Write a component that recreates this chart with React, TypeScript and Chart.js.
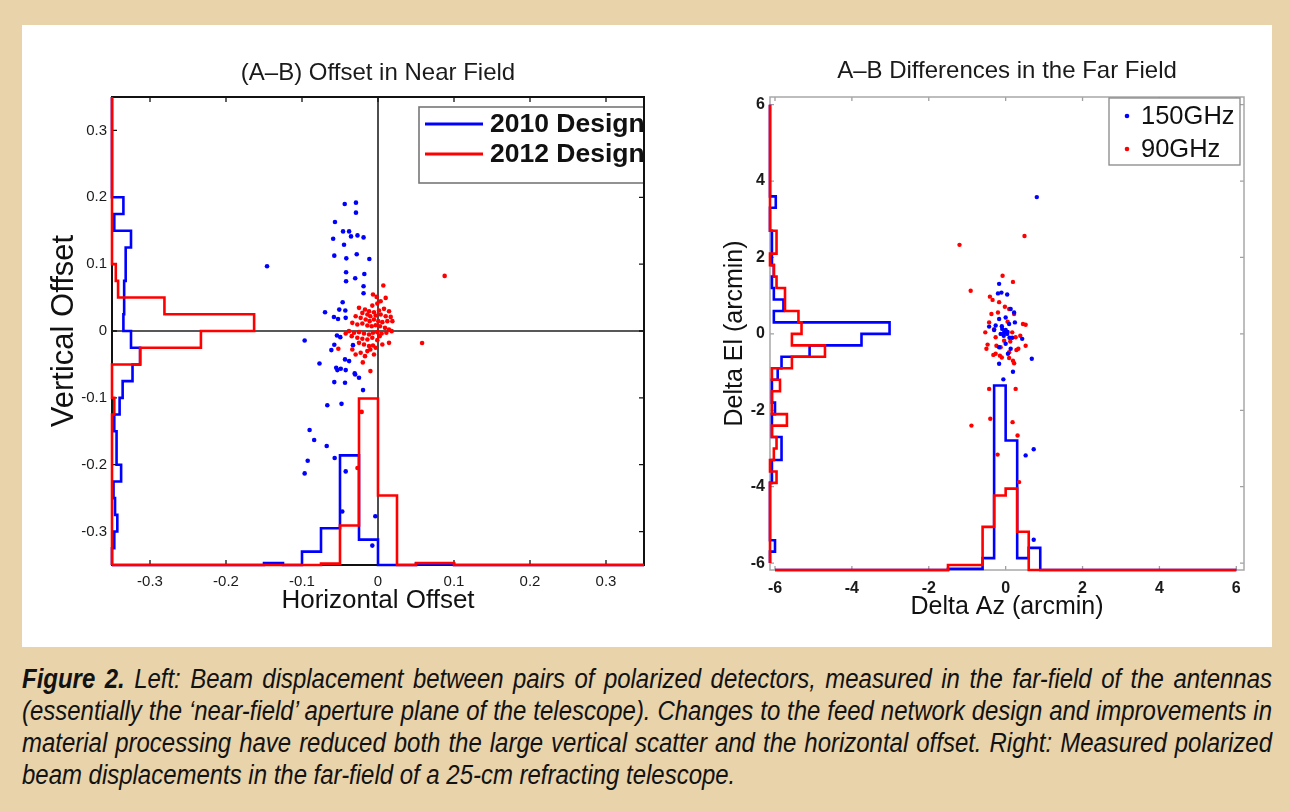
import React, { useEffect, useLayoutEffect, useRef, useState } from "react";
import { Chart, registerables } from "chart.js";

Chart.register(...registerables);

const FONT = '"Liberation Sans", Arial, Helvetica, sans-serif';
const BLUE = "#0000ff";
const RED = "#ff0000";
const TAN = "#e8d3ab";

// ---------------- Left panel: near field ----------------
const nearTitle = "(A–B) Offset in Near Field";
const nearXLabel = "Horizontal Offset";
const nearYLabel = "Vertical Offset";
const nearSeriesNames = ["2010 Design", "2012 Design"];
const nearTicks = [-0.3, -0.2, -0.1, 0, 0.1, 0.2, 0.3];
const nearMin = -0.35;
const nearMax = 0.35;
const nearBinEdges = [
  -0.35, -0.325, -0.3, -0.275, -0.25, -0.225, -0.2, -0.175, -0.15, -0.125, -0.1, -0.075, -0.05, -0.025, 0,
  0.025, 0.05, 0.075, 0.1, 0.125, 0.15, 0.175, 0.2, 0.225, 0.25, 0.275, 0.3, 0.325, 0.35,
];
// histogram of vertical offsets (drawn from the left edge), in axis units
const near2010VertHist = [0, 0.003, 0.007, 0.004, 0.002, 0.012, 0.006, 0.006, 0.003, 0.01, 0.014, 0.027, 0.037, 0.025, 0.015, 0.016, 0.016, 0.018, 0.018, 0.025, 0.003, 0.015, 0, 0, 0, 0, 0, 0];
const near2012VertHist = [0, 0, 0, 0, 0, 0, 0, 0, 0, 0.003, 0, 0, 0.037, 0.117, 0.187, 0.069, 0.008, 0.005, 0, 0, 0, 0, 0, 0, 0, 0, 0, 0];
// histogram of horizontal offsets (drawn from the bottom edge)
const near2010HorzHist = [0, 0, 0, 0, 0, 0, 0, 0, 0.003, 0, 0.02, 0.055, 0.164, 0.038, 0, 0, 0.002, 0.002, 0, 0, 0, 0, 0, 0, 0, 0, 0, 0];
const near2012HorzHist = [0, 0, 0, 0, 0, 0, 0, 0, 0, 0, 0, 0.002, 0.059, 0.249, 0.104, 0, 0.003, 0.003, 0, 0, 0, 0, 0, 0, 0, 0, 0, 0];

const near2010X = [
  -0.0438, -0.029, -0.029, -0.0566, -0.046, -0.038, -0.0355, -0.027, -0.019, -0.059,
  -0.0447, -0.0575, -0.0417, -0.028, -0.0114, -0.146, -0.042, -0.018, -0.03, -0.042,
  -0.019, -0.019, -0.0465, -0.051, -0.043, -0.0697, -0.058, -0.0526, -0.0425, -0.054,
  -0.0496, -0.0965, -0.0614, -0.0575, -0.0329, -0.077, -0.0434, -0.038, -0.055, -0.049,
  -0.0307,
  -0.0535, -0.0425, -0.03, -0.025, -0.0575, -0.0434, -0.0197, -0.0667, -0.048, -0.09,
  -0.084, -0.0675, -0.057, -0.0925, -0.0965, -0.0425, -0.047, -0.0035, -0.0075,
];
const near2010Y = [
  0.19, 0.192, 0.177, 0.163, 0.149, 0.149, 0.1415, 0.143, 0.14, 0.138,
  0.129, 0.1127, 0.1087, 0.1147, 0.1077, 0.0968, 0.0878, 0.0853, 0.0789, 0.0744,
  0.0669, 0.0565, 0.043, 0.032, 0.0306, 0.028, 0.021, 0.018, 0.0197, -0.0067,
  -0.0092, -0.0142, -0.0286, -0.0206, -0.0212, -0.0485, -0.0425, -0.045, -0.055, -0.0564,
  -0.0634,
  -0.0585, -0.0585, -0.065, -0.07, -0.0764, -0.0773, -0.0884, -0.111, -0.109, -0.148,
  -0.163, -0.172, -0.19, -0.194, -0.213, -0.21, -0.27, -0.277, -0.321,
];
const near2012X = [
  0.007, -0.0066, -0.0018, 0.0101, 0.0035, -0.0009, -0.0075, -0.025, -0.0171, -0.0118,
  -0.0053, 0.0013, 0.0079, 0.0145, -0.0206, -0.014, -0.0101, -0.0031, 0.0035, 0.0101,
  0.0167, -0.0294, -0.0228, -0.0162, -0.011, -0.0053, 0.0004, 0.0057, 0.0123, 0.0189,
  -0.0338, -0.0272, -0.0206, -0.014, -0.0083, -0.0031, 0.0026, 0.0092, 0.0145, -0.0382,
  -0.0316, -0.025, -0.0184, -0.0118, -0.0066, -0.0009, 0.0048, 0.011, 0.018, -0.0425,
  -0.0346, -0.0272, -0.0206, -0.014, -0.0075, -0.0009, 0.0057, 0.0145, -0.025, -0.0184,
  -0.0118, -0.0066, -0.0522, -0.0338, -0.0228, -0.014, -0.0053, -0.0171, -0.0101, -0.0294,
  -0.0031, 0.0022, 0.0877, 0.058, -0.0215, -0.027, -0.02, -0.01,
];
const near2012Y = [
  0.068, 0.0545, 0.051, 0.0495, 0.0445, 0.041, 0.038, 0.0346, 0.0321, 0.0296,
  0.0281, 0.0306, 0.0331, 0.0296, 0.0271, 0.0246, 0.0221, 0.0231, 0.0246, 0.0221,
  0.0211, 0.0221, 0.0197, 0.0172, 0.0147, 0.0172, 0.0147, 0.0132, 0.0147, 0.0147,
  0.0122, 0.0097, 0.0112, 0.0082, 0.0072, 0.0087, 0.0072, 0.0047, 0.0022, -0.0002,
  -0.0027, -0.0017, -0.0037, -0.0052, -0.0027, -0.0017, -0.0037, -0.0027, -0.0002, -0.0037,
  -0.0077, -0.0102, -0.0117, -0.0127, -0.0102, -0.0137, -0.0201, -0.0177, -0.0177, -0.0201,
  -0.0226, -0.0216, -0.0266, -0.0276, -0.0326, -0.0301, -0.0351, -0.0376, -0.0276, -0.0351,
  -0.0251, -0.0077, 0.0824, -0.018, -0.121, -0.205, -0.047, -0.06,
];

// ---------------- Right panel: far field ----------------
const farTitle = "A–B Differences in the Far Field";
const farXLabel = "Delta Az (arcmin)";
const farYLabel = "Delta El (arcmin)";
const farSeriesNames = ["150GHz", "90GHz"];
const farTicks = [-6, -4, -2, 0, 2, 4, 6];
const farXMin = -6.13;
const farXMax = 6.2;
const farYMin = -6.18;
const farYMax = 6.2;
const farBinEdges = [
  -6, -5.7, -5.4, -5.1, -4.8, -4.5, -4.2, -3.9, -3.6, -3.3, -3, -2.7, -2.4, -2.1, -1.8, -1.5, -1.2, -0.9, -0.6, -0.3,
  0, 0.3, 0.6, 0.9, 1.2, 1.5, 1.8, 2.1, 2.4, 2.7, 3, 3.3, 3.6, 3.9, 4.2, 4.5, 4.8, 5.1, 5.4, 5.7, 6,
];
const far150VertHist = [0, 0.13, 0, 0, 0, 0, 0, 0.05, 0.05, 0.3, 0.3, 0.05, 0.05, 0.13, 0.05, 0.05, 0.2, 0.3, 1.03, 2.38, 3.11, 0.1, 0.35, 0.1, 0.05, 0.1, 0.05, 0.05, 0.05, 0, 0, 0.15, 0, 0, 0, 0, 0, 0, 0, 0];
const far90VertHist = [0, 0, 0, 0, 0, 0, 0, 0.17, 0, 0.1, 0.17, 0.05, 0.44, 0.05, 0.05, 0.26, 0.05, 0.57, 1.43, 0.57, 0.82, 0.74, 0.39, 0.39, 0.17, 0.1, 0, 0.17, 0.17, 0, 0, 0, 0, 0, 0, 0, 0, 0, 0, 0];
const far150HorzHist = [0, 0, 0, 0, 0, 0, 0, 0, 0, 0, 0, 0, 0, 0, 0, 0.03, 0.03, 0.03, 0.31, 4.83, 3.39, 0.31, 0.58, 0, 0, 0, 0, 0, 0, 0, 0, 0, 0, 0, 0, 0, 0, 0, 0, 0];
const far90HorzHist = [0, 0, 0, 0, 0, 0, 0, 0, 0, 0, 0, 0, 0, 0, 0, 0.13, 0.13, 0.13, 1.13, 1.95, 2.13, 1.0, 0, 0, 0, 0, 0, 0, 0, 0, 0, 0, 0, 0, 0, 0, 0, 0, 0, 0];

const far150X = [
  -0.17, -0.2, -0.11, 0.04, 0.13, 0.22, -0.17, 0.0, -0.26, -0.43,
  -0.09, -0.04, 0.04, -0.13, 0.09, 0.24, 0.17, -0.17, 0.0, 0.13,
  0.43, 0.68, -0.17, 0.19, -0.06, 0.06, 0.52, 0.73, 0.73, 0.81,
  -0.3, 0.1, 0.05, -0.05, 0.0, -0.1,
];
const far150Y = [
  1.31, 1.06, 1.08, 1.03, 0.65, 0.56, 0.39, 0.43, 0.22, 0.19,
  0.13, 0.04, 0.0, 0.0, 0.26, 0.3, -0.1, -0.35, -0.26, -0.39,
  -0.13, -0.65, -0.78, -0.99, -1.19, -0.52, -3.18, -3.02, -5.39, 3.58,
  0.1, -0.1, 0.05, -0.05, 0.1, 0.2,
];
const far90X = [
  -1.2, 0.49, -0.08, 0.19, -0.91, -0.41, -0.34, -0.17, -0.02, -0.37,
  -0.2, 0.22, 0.09, -0.43, -0.53, 0.45, 0.52, -0.47, -0.5, -0.24,
  -0.13, 0.28, 0.33, 0.52, -0.26, -0.15, 0.09, 0.19, 0.22, 0.09,
  -0.04, 0.26, 0.17, -0.26, -0.43, 0.26, -0.89, -0.4, 0.18, 0.31,
  -0.21, 0.35, 0.05, -0.3, 0.38, -0.1, 0.12, -0.32,
];
const far90Y = [
  2.33, 2.56, 1.52, 1.36, 1.13, 0.975, 0.89, 0.83, 0.71, 0.52,
  0.56, 0.52, 0.65, 0.3, 0.04, 0.26, 0.24, -0.28, -0.39, -0.31,
  -0.35, -0.42, -0.39, -0.31, -0.52, -0.57, -0.63, -0.7, -0.77, -0.48,
  -0.18, -0.09, 0.04, -0.09, -1.44, -1.44, -2.4, -2.22, -2.31, -2.66,
  -3.16, -3.88, 0.32, 0.12, -0.05, -0.62, -0.2, -0.55,
];

const captionLines = [
  "Left: Beam displacement between pairs of polarized detectors, measured in the far-field of the antennas",
  "(essentially the \u2018near-field\u2019 aperture plane of the telescope). Changes to the feed network design and improvements in",
  "material processing have reduced both the large vertical scatter and the horizontal offset. Right: Measured polarized",
  "beam displacements in the far-field of a 25-cm refracting telescope.",
];
const captionLead = "Figure 2.";

// ---------------- helpers ----------------
type P = { x: number; y: number };
function stepAlongY(edges: number[], widths: number[], base: number): P[] {
  const pts: P[] = [{ x: base, y: edges[0] }];
  widths.forEach((w, i) => {
    pts.push({ x: base + w, y: edges[i] });
    pts.push({ x: base + w, y: edges[i + 1] });
  });
  pts.push({ x: base, y: edges[edges.length - 1] });
  return pts;
}
function stepAlongX(edges: number[], heights: number[], base: number): P[] {
  const pts: P[] = [{ x: edges[0], y: base }];
  heights.forEach((h, i) => {
    pts.push({ x: edges[i], y: base + h });
    pts.push({ x: edges[i + 1], y: base + h });
  });
  pts.push({ x: edges[edges.length - 1], y: base });
  return pts;
}
function zipPts(xs: number[], ys: number[]): P[] {
  return xs.map((x, i) => ({ x, y: ys[i] }));
}
function lineDs(data: P[], color: string, order: number) {
  return {
    type: "scatter",
    data,
    showLine: true,
    borderColor: color,
    backgroundColor: color,
    borderWidth: 2.6,
    pointRadius: 0,
    pointHoverRadius: 0,
    tension: 0,
    fill: false,
    clip: 8,
    order,
  };
}
function dotDs(data: P[], color: string, order: number, r: number) {
  return {
    type: "scatter",
    data,
    showLine: false,
    backgroundColor: color,
    borderColor: color,
    borderWidth: 0,
    pointRadius: r,
    pointHoverRadius: r,
    clip: 8,
    order,
  };
}

function framePlugin(o: any) {
  return {
    id: "frame",
    beforeDatasetsDraw(chart: any) {
      const { ctx, chartArea: a, scales } = chart;
      const xs = scales.x;
      const ys = scales.y;
      ctx.save();
      if (o.cross) {
        ctx.strokeStyle = "#222";
        ctx.lineWidth = 1.6;
        ctx.beginPath();
        const x0 = xs.getPixelForValue(0);
        const y0 = ys.getPixelForValue(0);
        ctx.moveTo(x0, a.top);
        ctx.lineTo(x0, a.bottom);
        ctx.moveTo(a.left, y0);
        ctx.lineTo(a.right, y0);
        ctx.stroke();
      }
      ctx.strokeStyle = o.tickColor;
      ctx.lineWidth = 1.3;
      ctx.beginPath();
      o.xTicks.forEach((v: number) => {
        const px = xs.getPixelForValue(v);
        ctx.moveTo(px, a.bottom);
        ctx.lineTo(px, a.bottom - o.tickLen);
        ctx.moveTo(px, a.top);
        ctx.lineTo(px, a.top + o.tickLen);
      });
      o.yTicks.forEach((v: number) => {
        const py = ys.getPixelForValue(v);
        ctx.moveTo(a.left, py);
        ctx.lineTo(a.left + o.tickLen, py);
        ctx.moveTo(a.right, py);
        ctx.lineTo(a.right - o.tickLen, py);
      });
      ctx.stroke();
      ctx.strokeStyle = o.color;
      ctx.lineWidth = o.width;
      ctx.strokeRect(a.left, a.top, a.right - a.left, a.bottom - a.top);
      ctx.restore();
    },
  };
}

function nearLegendPlugin() {
  return {
    id: "nearLegend",
    afterDatasetsDraw(chart: any) {
      const { ctx, chartArea: a } = chart;
      const w = 225;
      const h = 76;
      const left = a.right - w;
      const top = a.top + 10;
      ctx.save();
      ctx.beginPath();
      ctx.rect(a.left, a.top, a.right - a.left, a.bottom - a.top);
      ctx.clip();
      ctx.fillStyle = "#ffffff";
      ctx.fillRect(left, top, w, h);
      ctx.strokeStyle = "#777";
      ctx.lineWidth = 1.6;
      ctx.strokeRect(left, top, w + 4, h);
      const colors = [BLUE, RED];
      nearSeriesNames.forEach((name, i) => {
        const cy = top + 17 + i * 30;
        ctx.strokeStyle = colors[i];
        ctx.lineWidth = 3;
        ctx.beginPath();
        ctx.moveTo(left + 6, cy);
        ctx.lineTo(left + 64, cy);
        ctx.stroke();
        ctx.fillStyle = "#111";
        ctx.font = `bold 26.5px ${FONT}`;
        ctx.textBaseline = "middle";
        ctx.textAlign = "left";
        ctx.fillText(name, left + 71, cy + 1);
      });
      ctx.restore();
      ctx.save();
      ctx.strokeStyle = "#111";
      ctx.lineWidth = 2;
      ctx.beginPath();
      ctx.moveTo(a.right, top - 2);
      ctx.lineTo(a.right, top + h + 2);
      ctx.stroke();
      ctx.restore();
    },
  };
}

function farLegendPlugin() {
  return {
    id: "farLegend",
    afterDatasetsDraw(chart: any) {
      const { ctx, chartArea: a } = chart;
      const w = 131;
      const h = 67;
      const left = a.right - 135;
      const top = a.top + 1;
      ctx.save();
      ctx.fillStyle = "#ffffff";
      ctx.fillRect(left, top, w, h);
      ctx.strokeStyle = "#888";
      ctx.lineWidth = 1.3;
      ctx.strokeRect(left, top, w, h);
      const colors = [BLUE, RED];
      farSeriesNames.forEach((name, i) => {
        const cy = top + 18 + i * 33;
        ctx.fillStyle = colors[i];
        ctx.beginPath();
        ctx.arc(left + 18, cy, 2.3, 0, Math.PI * 2);
        ctx.fill();
        ctx.fillStyle = "#111";
        ctx.font = `25.5px ${FONT}`;
        ctx.textBaseline = "middle";
        ctx.textAlign = "left";
        ctx.fillText(name, left + 32, cy + 1);
      });
      ctx.restore();
    },
  };
}

function axis(opts: any) {
  const { min, max, ticks, size, horizontal, title, titleSize, titlePad, tickFont, tickPad } = opts;
  return {
    type: "linear",
    position: horizontal ? "bottom" : "left",
    min,
    max,
    afterFit: (s: any) => {
      if (horizontal) s.height = size;
      else s.width = size;
    },
    afterBuildTicks: (s: any) => {
      s.ticks = ticks.map((v: number) => ({ value: v }));
    },
    grid: { display: false, drawTicks: false },
    border: { display: false },
    ticks: {
      color: "#1a1a1a",
      font: tickFont,
      padding: tickPad,
      autoSkip: false,
      maxRotation: 0,
      callback: (v: any) => String(v),
    },
    title: {
      display: true,
      text: title,
      color: "#111",
      font: { size: titleSize, family: FONT },
      padding: horizontal ? { top: 0, bottom: titlePad } : { top: titlePad, bottom: 0 },
    },
  };
}

function nearConfig(): any {
  return {
    type: "scatter",
    data: {
      datasets: [
        dotDs(zipPts(near2012X, near2012Y), RED, 0, 2.3),
        dotDs(zipPts(near2010X, near2010Y), BLUE, 1, 2.3),
        lineDs(stepAlongY(nearBinEdges, near2012VertHist, nearMin), RED, 2),
        lineDs(stepAlongX(nearBinEdges, near2012HorzHist, nearMin), RED, 3),
        lineDs(stepAlongY(nearBinEdges, near2010VertHist, nearMin), BLUE, 4),
        lineDs(stepAlongX(nearBinEdges, near2010HorzHist, nearMin), BLUE, 5),
      ],
    },
    options: {
      responsive: false,
      animation: false,
      events: [],
      layout: { padding: { top: 97, right: 16, left: 0, bottom: 0 } },
      plugins: { legend: { display: false }, tooltip: { enabled: false }, title: { display: false } },
      scales: {
        x: axis({ min: nearMin, max: nearMax, ticks: nearTicks, size: 75, horizontal: true, title: nearXLabel, titleSize: 26, titlePad: 24, tickFont: { size: 15, family: FONT }, tickPad: 8 }),
        y: axis({ min: nearMin, max: nearMax, ticks: nearTicks, size: 112, horizontal: false, title: nearYLabel, titleSize: 31, titlePad: 46, tickFont: { size: 15, family: FONT }, tickPad: 5 }),
      },
    },
    plugins: [
      framePlugin({ cross: true, color: "#111", width: 2, tickColor: "#111", tickLen: 5, xTicks: nearTicks, yTicks: nearTicks }),
      nearLegendPlugin(),
    ],
  };
}

function farConfig(): any {
  return {
    type: "scatter",
    data: {
      datasets: [
        dotDs(zipPts(far90X, far90Y), RED, 1, 2.2),
        dotDs(zipPts(far150X, far150Y), BLUE, 0, 2.2),
        lineDs(stepAlongY(farBinEdges, far90VertHist, farXMin), RED, 2),
        lineDs(stepAlongX(farBinEdges, far90HorzHist, farYMin), RED, 3),
        lineDs(stepAlongY(farBinEdges, far150VertHist, farXMin), BLUE, 4),
        lineDs(stepAlongX(farBinEdges, far150HorzHist, farYMin), BLUE, 5),
      ],
    },
    options: {
      responsive: false,
      animation: false,
      events: [],
      layout: { padding: { top: 97, right: 45, left: 0, bottom: 0 } },
      plugins: { legend: { display: false }, tooltip: { enabled: false }, title: { display: false } },
      scales: {
        x: axis({ min: farXMin, max: farXMax, ticks: farTicks, size: 70, horizontal: true, title: farXLabel, titleSize: 25, titlePad: 18, tickFont: { size: 16, family: FONT, weight: "bold" }, tickPad: 9 }),
        y: axis({ min: farYMin, max: farYMax, ticks: farTicks, size: 110, horizontal: false, title: farYLabel, titleSize: 25, titlePad: 60, tickFont: { size: 16, family: FONT, weight: "bold" }, tickPad: 5 }),
      },
    },
    plugins: [
      framePlugin({ cross: false, color: "#a8a8a8", width: 1.5, tickColor: "#a0a0a0", tickLen: 4, xTicks: farTicks, yTicks: farTicks }),
      farLegendPlugin(),
    ],
  };
}

function Caption() {
  const measureRef = useRef<HTMLDivElement>(null);
  const [scale, setScale] = useState(1);
  const W = 1250;
  const capFont: any = {
    fontFamily: '"Liberation Sans", Arial, sans-serif',
    fontStyle: "italic",
    fontSize: 27,
    color: "#121212",
  };
  useLayoutEffect(() => {
    const el = measureRef.current;
    if (!el) return;
    let maxW = 0;
    el.querySelectorAll("span").forEach((s) => {
      maxW = Math.max(maxW, (s as HTMLElement).getBoundingClientRect().width);
    });
    if (maxW > 0) setScale(Math.min(1, (W - 4) / maxW));
  }, []);
  const renderLine = (i: number) => (
    <>
      {i === 0 ? <b>{captionLead} </b> : null}
      {captionLines[i]}
    </>
  );
  return (
    <>
      <div ref={measureRef} style={{ position: "absolute", left: 0, top: 0, visibility: "hidden", ...capFont }}>
        {[0, 1, 2].map((i) => (
          <div key={i}>
            <span style={{ whiteSpace: "nowrap", display: "inline-block" }}>{renderLine(i)}</span>
          </div>
        ))}
      </div>
      <div
        style={{
          position: "absolute",
          left: 22,
          top: 663,
          width: W / scale,
          transform: `scaleX(${scale})`,
          transformOrigin: "left top",
          lineHeight: "32px",
          ...capFont,
        }}
      >
        {captionLines.map((_, i) => (
          <div
            key={i}
            style={{
              whiteSpace: "nowrap",
              textAlign: i < 3 ? "justify" : "left",
              textAlignLast: i < 3 ? "justify" : "left",
            } as any}
          >
            {renderLine(i)}
          </div>
        ))}
      </div>
    </>
  );
}

export default function App() {
  const leftRef = useRef<HTMLCanvasElement>(null);
  const rightRef = useRef<HTMLCanvasElement>(null);
  useEffect(() => {
    document.body.style.margin = "0";
    Chart.defaults.font.family = FONT;
    const c1 = new Chart(leftRef.current as HTMLCanvasElement, nearConfig());
    const c2 = new Chart(rightRef.current as HTMLCanvasElement, farConfig());
    return () => {
      c1.destroy();
      c2.destroy();
    };
  }, []);
  const titleStyle: any = {
    position: "absolute",
    width: 600,
    textAlign: "center",
    fontFamily: FONT,
    fontSize: 24,
    lineHeight: "28px",
    color: "#1a1a1a",
    whiteSpace: "nowrap",
  };
  return (
    <div style={{ position: "absolute", left: 0, top: 0, width: 1289, height: 811, background: TAN, overflow: "hidden" }}>
      <div style={{ position: "absolute", left: 22, top: 25, width: 1250, height: 622, background: "#ffffff" }} />
      <canvas ref={leftRef} width={660} height={640} style={{ position: "absolute", left: 0, top: 0, width: 660, height: 640 }} />
      <canvas ref={rightRef} width={629} height={640} style={{ position: "absolute", left: 660, top: 0, width: 629, height: 640 }} />
      <div style={{ ...titleStyle, left: 378 - 300, top: 58 }}>{nearTitle}</div>
      <div style={{ ...titleStyle, left: 1007 - 300, top: 56 }}>{farTitle}</div>
      <Caption />
    </div>
  );
}
